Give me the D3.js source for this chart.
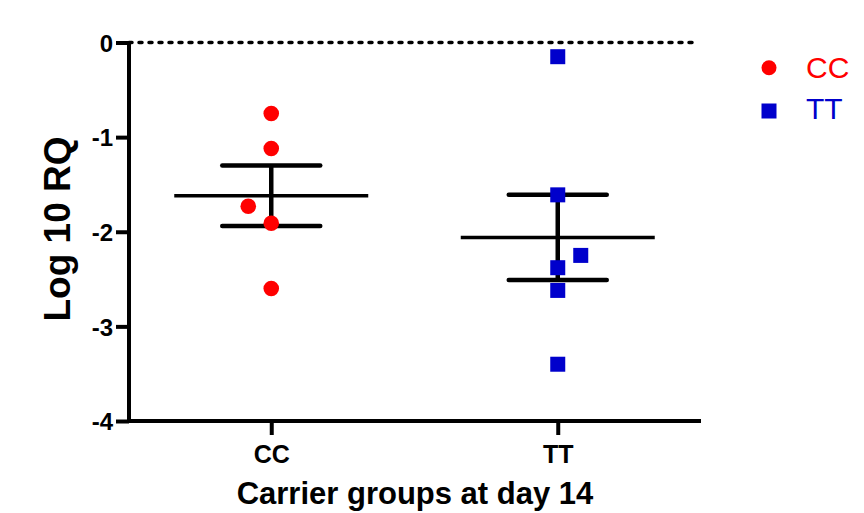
<!DOCTYPE html>
<html>
<head>
<meta charset="utf-8">
<script src="https://cdn.jsdelivr.net/npm/d3@7"></script>
<style>
  body { margin: 0; background: #fff; }
  svg { display: block; font-family: "Liberation Sans", Arial, sans-serif; }
</style>
</head>
<body>
<div id="chart"></div>
<script>
var groups = ["CC", "TT"];
var cc_values = [-0.75, -1.12, -1.73, -1.91, -2.60];
var cc_slot = [0, 0, -1, 0, 0];
var tt_values = [-0.15, -1.61, -2.25, -2.38, -2.62, -3.40];
var tt_slot = [0, 0, 1, 0, 0, 0];
var group_mean = [-1.62, -2.06];
var group_sem = [0.32, 0.45];
var y_ticks = [0, -1, -2, -3, -4];

var width = 864, height = 513;
var margin = {top: 42.5, right: 163, bottom: 92, left: 129};

var svg = d3.select("#chart").append("svg")
    .attr("width", width)
    .attr("height", height);

var x = d3.scalePoint().domain(groups).range([margin.left - 1, width - margin.right]).padding(0.5);
var y = d3.scaleLinear().domain([-4, 0]).range([height - margin.bottom, margin.top]);
// dot plot side-shift for overlapping points
var slot = d3.scaleLinear().domain([-1, 1]).range([-23, 23]);

var colors = {CC: "#ff0000", TT: "#0000cc"};

// dotted zero line
svg.append("line")
    .attr("x1", margin.left)
    .attr("x2", 695)
    .attr("y1", y(0))
    .attr("y2", y(0))
    .style("stroke", "black")
    .style("stroke-width", 3.5)
    .style("stroke-linecap", "round")
    .attr("stroke-dasharray", "3,7");

// y axis
var yAxis = svg.append("g")
    .attr("transform", "translate(" + margin.left + ",0)")
    .call(d3.axisLeft(y).tickValues(y_ticks).tickSize(13).tickPadding(3).tickFormat(function(d) { return String(d); }));
yAxis.select(".domain").attr("stroke-width", 4).attr("d", "M0," + y(0) + "V" + y(-4));
yAxis.selectAll(".tick line").attr("stroke-width", 4);
yAxis.selectAll(".tick text")
    .attr("font-size", "24px")
    .attr("font-weight", "bold")
    .attr("font-family", "Liberation Sans, Arial, sans-serif")
    .attr("fill", "black")
    .attr("dy", "0.36em");

// x axis
var xAxis = svg.append("g")
    .attr("transform", "translate(0," + y(-4) + ")")
    .call(d3.axisBottom(x).tickSize(14).tickPadding(10));
xAxis.select(".domain").attr("stroke-width", 4).attr("d", "M" + (margin.left - 2) + ",0H" + (width - margin.right));
xAxis.selectAll(".tick line").attr("stroke-width", 4);
xAxis.selectAll(".tick text")
    .attr("font-size", "25px")
    .attr("font-weight", "bold")
    .attr("font-family", "Liberation Sans, Arial, sans-serif")
    .attr("fill", "black");

// mean and SEM bars
groups.forEach(function(g, i) {
    var cx = x(g);
    svg.append("line")
        .attr("x1", cx - 97).attr("x2", cx + 97)
        .attr("y1", y(group_mean[i])).attr("y2", y(group_mean[i]))
        .style("stroke", "black").style("stroke-width", 3.5);
    svg.append("line")
        .attr("x1", cx).attr("x2", cx)
        .attr("y1", y(group_mean[i] + group_sem[i])).attr("y2", y(group_mean[i] - group_sem[i]))
        .style("stroke", "black").style("stroke-width", 4.5);
    [group_mean[i] + group_sem[i], group_mean[i] - group_sem[i]].forEach(function(v) {
        svg.append("line")
            .attr("x1", cx - 49).attr("x2", cx + 49)
            .attr("y1", y(v)).attr("y2", y(v))
            .style("stroke", "black").style("stroke-width", 4.5)
            .style("stroke-linecap", "round");
    });
});

// CC points
svg.selectAll(".cc")
    .data(cc_values)
    .enter()
    .append("circle")
    .attr("cx", function(d, i) { return x("CC") + slot(cc_slot[i]); })
    .attr("cy", function(d) { return y(d); })
    .attr("r", 7.8)
    .attr("fill", colors.CC);

// TT points
svg.selectAll(".tt")
    .data(tt_values)
    .enter()
    .append("rect")
    .attr("x", function(d, i) { return x("TT") + slot(tt_slot[i]) - 7.5; })
    .attr("y", function(d) { return y(d) - 7.5; })
    .attr("width", 15)
    .attr("height", 15)
    .attr("fill", colors.TT);

// axis titles
svg.append("text")
    .attr("transform", "translate(70," + 229 + ") rotate(-90)")
    .attr("text-anchor", "middle")
    .attr("font-size", "37px")
    .attr("font-weight", "bold")
    .text("Log 10 RQ");

svg.append("text")
    .attr("x", 415)
    .attr("y", 504)
    .attr("text-anchor", "middle")
    .attr("font-size", "31px")
    .attr("font-weight", "bold")
    .text("Carrier groups at day 14");

// legend
var legend = svg.append("g");
legend.append("circle")
    .attr("cx", 769).attr("cy", 67.7).attr("r", 7.5)
    .attr("fill", colors.CC);
legend.append("text")
    .attr("x", 806).attr("y", 78.3)
    .attr("font-size", "30px")
    .attr("fill", colors.CC)
    .text("CC");
legend.append("rect")
    .attr("x", 761.5).attr("y", 103.5).attr("width", 15).attr("height", 15)
    .attr("fill", colors.TT);
legend.append("text")
    .attr("x", 806).attr("y", 119)
    .attr("font-size", "30px")
    .attr("fill", colors.TT)
    .text("TT");
</script>
</body>
</html>
